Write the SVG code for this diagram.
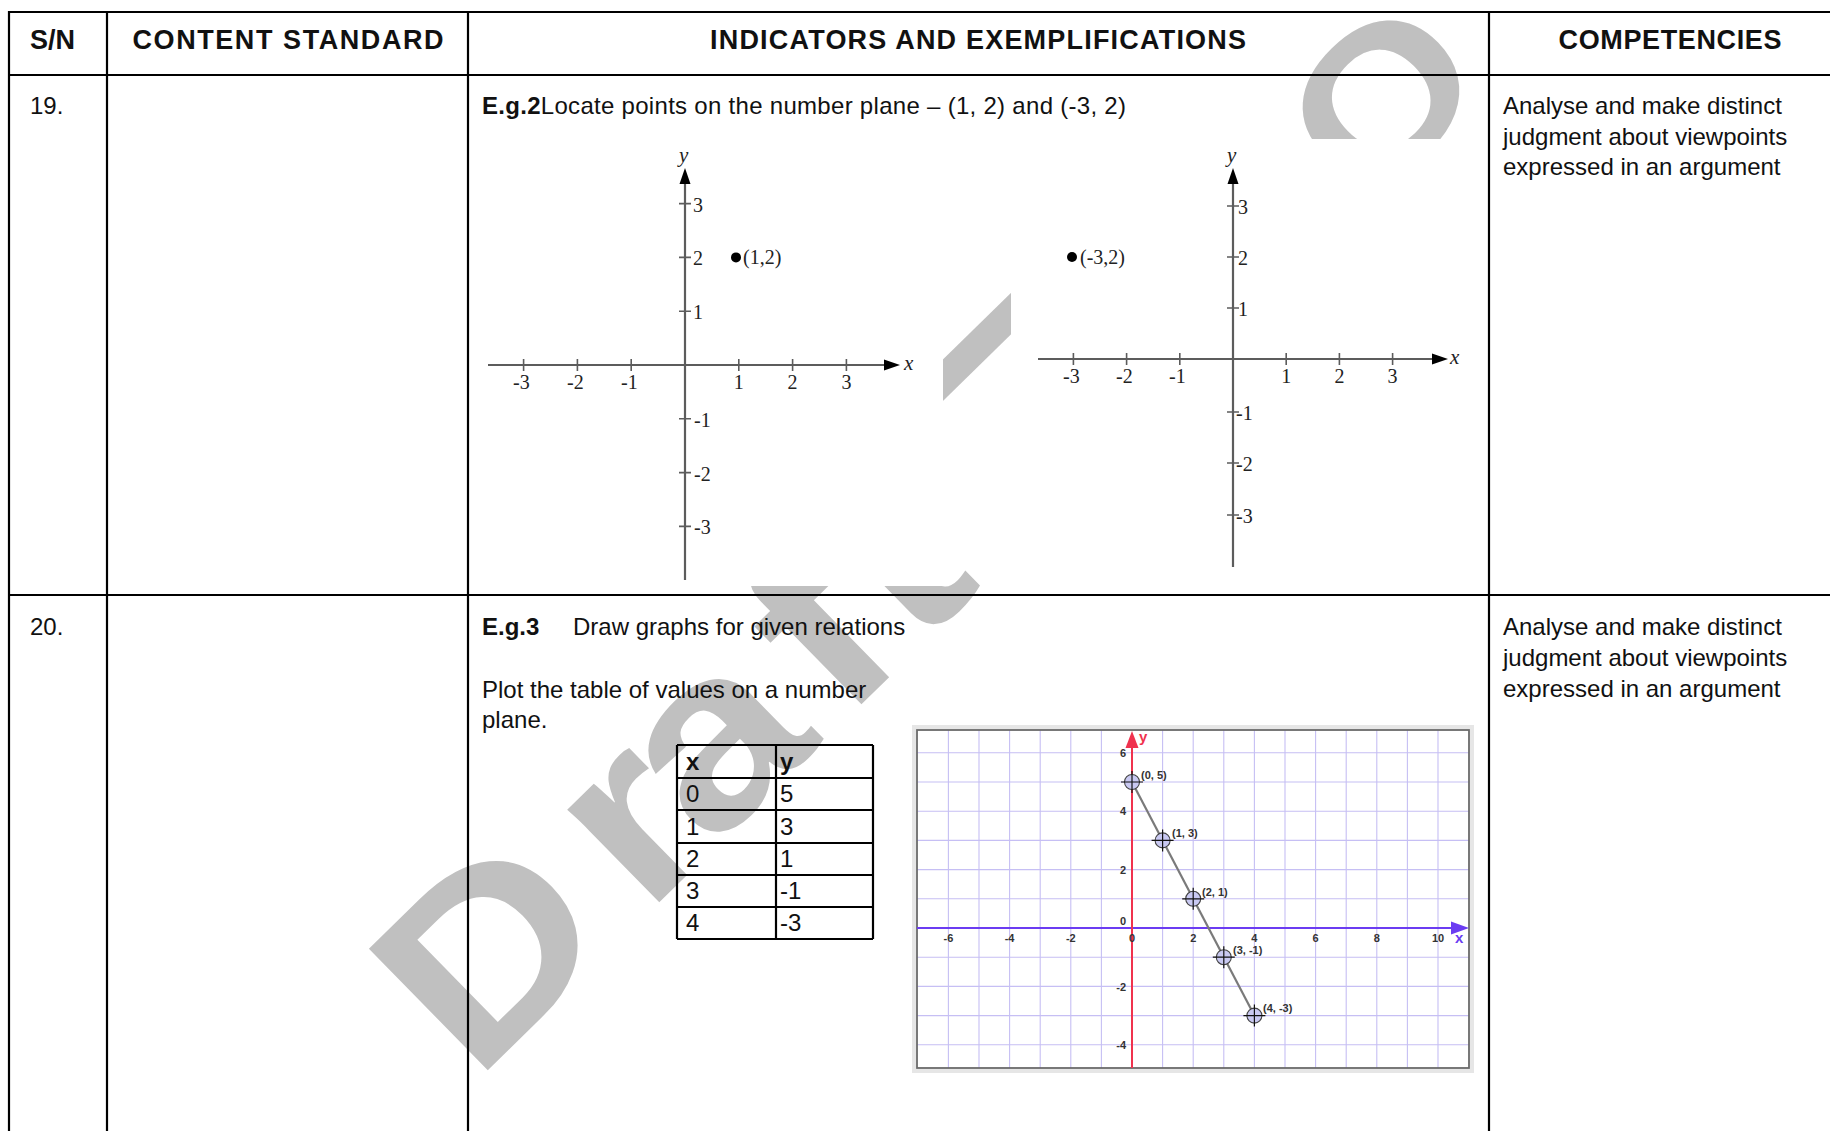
<svg xmlns="http://www.w3.org/2000/svg" xmlns:xlink="http://www.w3.org/1999/xlink" width="1830" height="1131" viewBox="0 0 1830 1131">
<defs>
<style>
.body{font-family:"Liberation Sans",Arial,sans-serif;font-size:24px;fill:#111}
.hdr{font-family:"Liberation Sans",Arial,sans-serif;font-size:27px;font-weight:bold;fill:#111}
.b{font-weight:bold}
.tl{stroke:#000;stroke-width:2.2;fill:none}
.ax{stroke:#5c5c5c;stroke-width:2.2;fill:none}
.tk{stroke:#5c5c5c;stroke-width:1.6;fill:none}
.num{font-family:"Liberation Serif","Times New Roman",serif;font-size:20px;fill:#222}
.it{font-family:"Liberation Serif","Times New Roman",serif;font-size:21px;font-style:italic;fill:#222}
.g3{font-family:"Liberation Sans",Arial,sans-serif;font-size:11px;font-weight:bold;fill:#333}
.grid{stroke:#c6bff4;stroke-width:1.1;fill:none}
.wm{font-family:"Liberation Sans",Arial,sans-serif;font-weight:bold;fill:#c0c0c0}
</style>
<g id="pt">
<circle r="7.5" fill="#c9c9f2" stroke="#444" stroke-width="1.1"/>
<path d="M-11 0H11M0 -11V11" stroke="#111" stroke-width="1.2"/>
</g>
</defs>
<rect x="0" y="0" width="1830" height="1131" fill="#fff"/>

<g id="watermark" class="wm" transform="translate(489,1069) rotate(-44.4) scale(1.15,1)">
<text x="-18 190 270 430 520" y="0" font-size="247">Draft</text>
<text x="661" y="-94" font-size="300">–</text>
<text x="1067" y="0" font-size="200">O</text>
</g>

<g id="image-covers" fill="#fff">
<rect x="475" y="125" width="468" height="461"/>
<rect x="1011" y="139" width="469" height="436"/>
</g>

<g id="graph1">
<path class="ax" d="M488 365H886M685 182V580"/>
<path class="tk" d="M523.6 359V371M577.4 359V371M631.2 359V371M738.8 359V371M792.6 359V371M846.4 359V371M679 203.6H691M679 257.4H691M679 311.2H691M679 418.8H691M679 472.6H691M679 526.4H691"/>
<path d="M884 359.5L884 370.5L900 365Z M679.5 184L690.5 184L685 168Z" fill="#000"/>
<text class="it" x="679" y="162">y</text>
<text class="it" x="904" y="370">x</text>
<g class="num">
<text x="513" y="389">-3</text><text x="567" y="389">-2</text><text x="621" y="389">-1</text>
<text x="738.8" y="389" text-anchor="middle">1</text><text x="792.6" y="389" text-anchor="middle">2</text><text x="846.4" y="389" text-anchor="middle">3</text>
<text x="693" y="211.6">3</text><text x="693" y="265.4">2</text><text x="693" y="319.2">1</text>
<text x="694" y="426.8">-1</text><text x="694" y="480.6">-2</text><text x="694" y="534.4">-3</text>
<text x="743" y="264">(1,2)</text>
</g>
<circle cx="736" cy="257.4" r="5" fill="#000"/>
</g>

<g id="graph2">
<path class="ax" d="M1038 359H1434M1233 182V567"/>
<path class="tk" d="M1073.4 353V365M1126.6 353V365M1179.8 353V365M1286.2 353V365M1339.4 353V365M1392.6 353V365M1227 206H1239M1227 257H1239M1227 308H1239M1227 412H1239M1227 463H1239M1227 515H1239"/>
<path d="M1432 353.5L1432 364.5L1448 359Z M1227.5 184L1238.5 184L1233 168Z" fill="#000"/>
<text class="it" x="1227" y="162">y</text>
<text class="it" x="1450" y="364">x</text>
<g class="num">
<text x="1063" y="383">-3</text><text x="1116" y="383">-2</text><text x="1169" y="383">-1</text>
<text x="1286.2" y="383" text-anchor="middle">1</text><text x="1339.4" y="383" text-anchor="middle">2</text><text x="1392.6" y="383" text-anchor="middle">3</text>
<text x="1238" y="214">3</text><text x="1238" y="265">2</text><text x="1238" y="316">1</text>
<text x="1236" y="420">-1</text><text x="1236" y="471">-2</text><text x="1236" y="523">-3</text>
<text x="1080" y="264">(-3,2)</text>
</g>
<circle cx="1072" cy="257" r="5" fill="#000"/>
</g>

<g id="graph3">
<rect x="914" y="727" width="558" height="344" fill="none" stroke="#e6e6e6" stroke-width="4"/>
<rect x="917" y="730" width="552" height="338" fill="#fff"/>
<path class="grid" d="M948.4 730V1068M979 730V1068M1009.6 730V1068M1040.2 730V1068M1070.8 730V1068M1101.4 730V1068M1162.6 730V1068M1193.2 730V1068M1223.8 730V1068M1254.4 730V1068M1285 730V1068M1315.6 730V1068M1346.2 730V1068M1376.8 730V1068M1407.4 730V1068M1438 730V1068M917 752.8H1469M917 782H1469M917 811.2H1469M917 840.4H1469M917 869.6H1469M917 898.8H1469M917 957.2H1469M917 986.4H1469M917 1015.6H1469M917 1044.8H1469"/>
<rect x="917" y="730" width="552" height="338" fill="none" stroke="#6a6a6a" stroke-width="1.8"/>
<path d="M917 928H1453" stroke="#6b3cf2" stroke-width="2"/>
<path d="M1451 921.5L1451 934.5L1469 928Z" fill="#6b3cf2"/>
<path d="M1132 1068V746" stroke="#f0324e" stroke-width="2"/>
<path d="M1125.5 748L1138.5 748L1132 731Z" fill="#f0324e"/>
<text x="1455" y="943" font-family="Liberation Sans,Arial,sans-serif" font-size="15" font-weight="bold" fill="#6b3cf2">x</text>
<text x="1139" y="742" font-family="Liberation Sans,Arial,sans-serif" font-size="15" font-weight="bold" fill="#f0324e">y</text>
<g class="g3" text-anchor="middle">
<text x="948.4" y="942">-6</text><text x="1009.6" y="942">-4</text><text x="1070.8" y="942">-2</text><text x="1132" y="942">0</text>
<text x="1193.2" y="942">2</text><text x="1254.4" y="942">4</text><text x="1315.6" y="942">6</text><text x="1376.8" y="942">8</text><text x="1438" y="942">10</text>
</g>
<g class="g3" text-anchor="end">
<text x="1126" y="757">6</text><text x="1126" y="815">4</text><text x="1126" y="874">2</text><text x="1126" y="925">0</text>
<text x="1126" y="991">-2</text><text x="1126" y="1049">-4</text>
</g>
<path d="M1132 782L1254.4 1015.6" stroke="#7a7a7a" stroke-width="2.2"/>
<use xlink:href="#pt" x="1132" y="782"/>
<use xlink:href="#pt" x="1162.6" y="840.4"/>
<use xlink:href="#pt" x="1193.2" y="898.8"/>
<use xlink:href="#pt" x="1223.8" y="957.2"/>
<use xlink:href="#pt" x="1254.4" y="1015.6"/>
<g class="g3">
<text x="1141" y="779">(0, 5)</text>
<text x="1172" y="837">(1, 3)</text>
<text x="1202" y="896">(2, 1)</text>
<text x="1233" y="954">(3, -1)</text>
<text x="1263" y="1012">(4, -3)</text>
</g>
</g>

<g id="table-lines">
<path class="tl" d="M9 12H1830M9 75H1830M9 595H1830M9 11V1131M107 11V1131M468 11V1131M1489 11V1131"/>
</g>

<g id="header">
<text class="hdr" x="30" y="49">S/N</text>
<text class="hdr" x="288" y="49" text-anchor="middle" textLength="311" lengthAdjust="spacing">CONTENT STANDARD</text>
<text class="hdr" x="978" y="49" text-anchor="middle" textLength="536" lengthAdjust="spacing">INDICATORS AND EXEMPLIFICATIONS</text>
<text class="hdr" x="1670" y="49" text-anchor="middle" textLength="223" lengthAdjust="spacing">COMPETENCIES</text>
</g>

<g id="row19">
<text class="body" x="30" y="114">19.</text>
<text class="body" x="482" y="114" textLength="644" lengthAdjust="spacing"><tspan class="b">E.g.2</tspan>Locate points on the number plane – (1, 2) and (-3, 2)</text>
<text class="body" x="1503" y="114">Analyse and make distinct</text>
<text class="body" x="1503" y="145">judgment about viewpoints</text>
<text class="body" x="1503" y="175">expressed in an argument</text>
</g>

<g id="row20">
<text class="body" x="30" y="635">20.</text>
<text class="body" x="482" y="635"><tspan class="b">E.g.3</tspan></text>
<text class="body" x="573" y="635">Draw graphs for given relations</text>
<text class="body" x="482" y="698">Plot the table of values on a number</text>
<text class="body" x="482" y="728">plane.</text>
<text class="body" x="1503" y="635">Analyse and make distinct</text>
<text class="body" x="1503" y="666">judgment about viewpoints</text>
<text class="body" x="1503" y="697">expressed in an argument</text>
</g>

<g id="values-table">
<path class="tl" d="M677 745H873M677 778H873M677 810H873M677 843H873M677 875H873M677 907H873M677 939H873M677 745V939M776 745V939M873 745V939"/>
<g class="body">
<text x="686" y="770" class="b">x</text><text x="780" y="770" class="b">y</text>
<text x="686" y="802">0</text><text x="780" y="802">5</text>
<text x="686" y="835">1</text><text x="780" y="835">3</text>
<text x="686" y="867">2</text><text x="780" y="867">1</text>
<text x="686" y="899">3</text><text x="780" y="899">-1</text>
<text x="686" y="931">4</text><text x="780" y="931">-3</text>
</g>
</g>
</svg>
